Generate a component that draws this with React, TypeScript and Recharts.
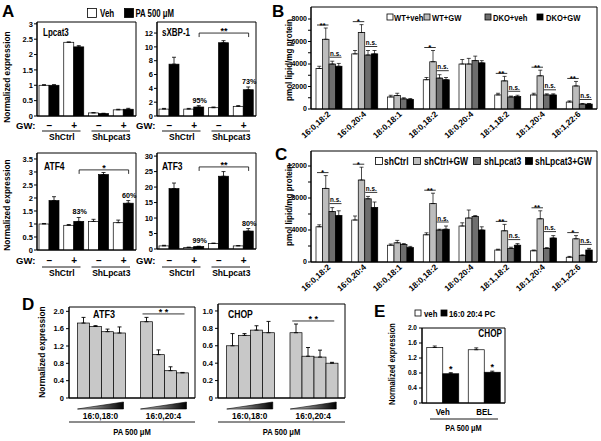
import React from 'react';
import { BarChart, Bar, XAxis, YAxis, ErrorBar, ReferenceArea, ReferenceLine } from 'recharts';

const W = 601;
const H = 441;
const FONT = '"Liberation Sans", Arial, sans-serif';

// ---------- panel A : qPCR, 4 conditions x (veh, PA) ----------
const aCats = ['ctrl-', 'ctrl+', 'kd-', 'kd+'];
const gwSigns = ['–', '+', '–', '+'];
const shLabels = ['ShCtrl', 'ShLpcat3'];

const lpcat3Veh = [1.0, 2.4, 0.1, 0.2];
const lpcat3VehErr = [0.02, 0.01, 0.01, 0.02];
const lpcat3Pa = [1.0, 2.25, 0.08, 0.22];
const lpcat3PaErr = [0.02, 0.04, 0.01, 0.03];

const sxbpVeh = [1.0, 1.0, 1.2, 1.4];
const sxbpVehErr = [0.1, 0.1, 0.1, 0.1];
const sxbpPa = [7.5, 1.3, 10.6, 3.8];
const sxbpPaErr = [1.0, 0.2, 0.3, 0.4];
const sxbpPct = ['', '95%', '', '73%'];

const atf4Veh = [1.0, 0.95, 1.1, 1.05];
const atf4VehErr = [0.02, 0.03, 0.08, 0.1];
const atf4Pa = [1.9, 1.1, 2.9, 1.8];
const atf4PaErr = [0.15, 0.15, 0.08, 0.1];
const atf4Pct = ['', '83%', '', '60%'];

const atf3Veh = [1.0, 0.5, 1.8, 1.0];
const atf3VehErr = [0.2, 0.1, 0.1, 0.1];
const atf3Pa = [19.5, 0.8, 23.5, 5.8];
const atf3PaErr = [1.8, 0.1, 1.5, 0.8];
const atf3Pct = ['', '99%', '', '80%'];

// ---------- panels B, C : lipidomics ----------
const species = ['16:0,18:2', '16:0,20:4', '18:0,18:1', '18:0,18:2', '18:0,20:4', '18:1,18:2', '18:1,20:4', '18:1,22:6'];

const wtVeh = [3600, 4900, 1070, 2600, 4000, 1250, 1250, 620];
const wtVehErr = [200, 300, 150, 200, 400, 150, 150, 100];
const wtGw = [6200, 6800, 1200, 4200, 4000, 2500, 2950, 2050];
const wtGwErr = [1000, 700, 200, 1000, 500, 400, 500, 400];
const dkoVeh = [4000, 4800, 900, 2750, 4300, 1070, 1250, 440];
const dkoVehErr = [250, 400, 100, 300, 400, 80, 100, 50];
const dkoGw = [3800, 4900, 850, 2600, 4100, 1100, 1250, 440];
const dkoGwErr = [250, 300, 80, 200, 200, 120, 100, 50];
const bStars = ['**', '*', '', '*', '', '**', '**', '**'];
const bNs = [true, true, false, true, false, true, true, true];

const shCtrl = [4400, 5250, 2100, 3400, 4500, 1500, 1400, 600];
const shCtrlErr = [250, 500, 150, 250, 400, 100, 100, 100];
const shCtrlGw = [9200, 10250, 2400, 7300, 5500, 3900, 5400, 2900];
const shCtrlGwErr = [1600, 1600, 300, 1300, 1000, 800, 1000, 400];
const shLpcat3 = [6300, 7900, 2200, 4000, 5700, 1700, 1700, 800];
const shLpcat3Err = [500, 300, 100, 100, 100, 150, 100, 100];
const shLpcat3Gw = [5800, 6800, 1800, 4100, 4000, 2100, 3000, 1500];
const shLpcat3GwErr = [600, 700, 150, 400, 400, 200, 300, 200];
const cStars = ['*', '*', '', '**', '', '**', '**', '*'];
const cNs = [true, true, false, true, false, true, true, true];

// ---------- panel D : dose series (4 doses per lipid) ----------
const dCats = ['16:0,18:0', '16:0,20:4'];
const atf3Dose1818 = [1.73, 1.65, 1.53, 1.5];
const atf3Dose1818Err = [0.13, 0.02, 0.06, 0.14];
const atf3Dose2004 = [1.76, 1.0, 0.63, 0.58];
const atf3Dose2004Err = [0.1, 0.11, 0.09, 0.01];
const chopDose1818 = [0.6, 0.72, 0.78, 0.75];
const chopDose1818Err = [0.14, 0.02, 0.05, 0.13];
const chopDose2004 = [0.75, 0.48, 0.47, 0.4];
const chopDose2004Err = [0.1, 0.1, 0.08, 0.01];

// ---------- panel E ----------
const eCats = ['Veh', 'BEL'];
const eVeh = [1.48, 1.42];
const eVehErr = [0.04, 0.05];
const ePc = [0.78, 0.82];
const ePcErr = [0.03, 0.03];

type Box = { x0: number; x1: number; y0: number; y1: number };

const marginFor = (b: Box, yw: number, xh: number) => ({
  left: b.x0 - yw,
  top: b.y0,
  right: W - b.x1,
  bottom: H - b.y1 - xh,
});

const Layer = ({ children }: { children: React.ReactNode }) => (
  <div style={{ position: 'absolute', left: 0, top: 0, width: W, height: H }}>{children}</div>
);

// bold text, optionally squeezed horizontally (the figure uses a narrow face)
const Txt = ({ x, y, size = 9.5, anchor = 'start', sx = 1, rotate = false, children }: any) => (
  <text
    x={0}
    y={0}
    fontSize={size}
    fontWeight="bold"
    fontFamily={FONT}
    fill="#000"
    textAnchor={anchor}
    transform={`translate(${x} ${y})${rotate ? ' rotate(-90)' : ''} scale(${sx} 1)`}
  >
    {children}
  </text>
);

const rectOf = (p: any, fill: string) => (
  <rect x={p.x} y={p.y} width={p.width} height={p.height} fill={fill} stroke="#000" strokeWidth={0.7} />
);

// pixel y of value v, using the bar's own scale (height per unit)
const yAt = (p: any, barValue: number, v: number) => p.y + p.height - v * (p.height / barValue);

const plainShape = (fill: string) => (p: any) => rectOf(p, fill);

const pctShape = (vals: number[], errs: number[], pct: string[]) => (p: any) => {
  const i = p.index;
  const top = yAt(p, vals[i], vals[i] + errs[i]);
  return (
    <g>
      {rectOf(p, '#000')}
      {pct[i] ? (
        <Txt x={p.x + p.width / 2 + 1} y={top - 3} size={8} anchor="middle" sx={0.9}>
          {pct[i]}
        </Txt>
      ) : null}
    </g>
  );
};

const starOverShape = (vals: number[], errs: number[], label: string[]) => (p: any) => {
  const i = p.index;
  const top = yAt(p, vals[i], vals[i] + errs[i]);
  return (
    <g>
      {rectOf(p, '#000')}
      {label[i] ? (
        <Txt x={p.x + p.width / 2} y={top - 1} size={9} anchor="middle">
          {label[i]}
        </Txt>
      ) : null}
    </g>
  );
};

const sigShape = (fill: string, vals: number[], errs: number[], stars: string[]) => (p: any) => {
  const i = p.index;
  const ly = yAt(p, vals[i], vals[i] + errs[i]) - 3;
  return (
    <g>
      {rectOf(p, fill)}
      {stars[i] ? (
        <g>
          <line x1={p.x - p.width + 1} x2={p.x + p.width - 0.5} y1={ly} y2={ly} stroke="#000" strokeWidth={0.8} />
          <Txt x={p.x} y={ly + 2.5} size={8} anchor="middle">
            {stars[i]}
          </Txt>
        </g>
      ) : null}
    </g>
  );
};

const nsShape = (fill: string, vals: number[], errs: number[], nVals: number[], nErrs: number[], ns: boolean[]) => (p: any) => {
  const i = p.index;
  const top = Math.min(yAt(p, vals[i], vals[i] + errs[i]), yAt(p, vals[i], nVals[i] + nErrs[i]));
  const ly = top - 4;
  return (
    <g>
      {rectOf(p, fill)}
      {ns[i] ? (
        <g>
          <line x1={p.x + 0.5} x2={p.x + 2 * p.width - 0.5} y1={ly} y2={ly} stroke="#000" strokeWidth={0.8} />
          <Txt x={p.x + p.width} y={ly - 1.5} size={7} anchor="middle" sx={0.9}>
            n.s.
          </Txt>
        </g>
      ) : null}
    </g>
  );
};

const bracketShape = (label: string, dx1: number, dx2: number, drop: number) => (p: any) => {
  const x1 = p.x1 + dx1;
  const x2 = p.x2 + dx2;
  const y = p.y1;
  const d = drop ? `M${x1},${y + drop}V${y}H${x2}V${y + drop}` : `M${x1},${y}H${x2}`;
  return (
    <g>
      <path d={d} fill="none" stroke="#000" strokeWidth={0.8} />
      <Txt x={(x1 + x2) / 2} y={y + 1} size={9} anchor="middle">
        {label}
      </Txt>
    </g>
  );
};

const yTick = (fs: number) => ({ fontSize: fs, fontWeight: 'bold', fill: '#000', fontFamily: FONT });

const gwTick = (bw: number, sy: number, ly: number) => (p: any) => {
  const { x, y, index } = p;
  return (
    <g>
      {index === 0 ? (
        <Txt x={x - 14} y={y + sy} size={9.5} anchor="end">
          GW:
        </Txt>
      ) : null}
      <Txt x={x} y={y + sy} size={10} anchor="middle">
        {gwSigns[index]}
      </Txt>
      {index % 2 === 0 ? (
        <g>
          <line x1={x - bw / 2 + 5} x2={x + 1.5 * bw - 6} y1={y + ly - 9} y2={y + ly - 9} stroke="#000" strokeWidth={0.9} />
          <Txt x={x + bw / 2} y={y + ly} size={8.5} anchor="middle">
            {shLabels[index / 2]}
          </Txt>
        </g>
      ) : null}
    </g>
  );
};

type ExprProps = {
  box: Box;
  domain: [number, number];
  ticks: number[];
  veh: number[];
  vehErr: number[];
  pa: number[];
  paErr: number[];
  pct: string[];
  bracket?: { y: number; label: string };
  sy: number;
  ly: number;
};

function ExprPanel({ box, domain, ticks, veh, vehErr, pa, paErr, pct, bracket, sy, ly }: ExprProps) {
  const data = aCats.map((c, i) => ({ c, veh: veh[i], pa: pa[i], vehE: [0, vehErr[i]], paE: [0, paErr[i]] }));
  const bw = (box.x1 - box.x0) / aCats.length;
  return (
    <Layer>
      <BarChart width={W} height={H} data={data} margin={marginFor(box, 30, 40)} barGap={0} barCategoryGap={2}>
        <XAxis dataKey="c" height={40} tickLine={false} tickSize={0} tickMargin={0} interval={0} axisLine={{ stroke: '#000' }} tick={gwTick(bw, sy, ly)} />
        <YAxis type="number" domain={domain} ticks={ticks} interval={0} width={30} tickSize={3} tickMargin={1} allowDataOverflow tick={yTick(7.5)} axisLine={{ stroke: '#000' }} tickLine={{ stroke: '#000' }} />
        <ReferenceArea y1={0} y2={domain[1]} fill="none" stroke="#000" strokeWidth={1} ifOverflow="visible" />
        <Bar dataKey="veh" isAnimationActive={false} shape={plainShape('#fff')}>
          <ErrorBar dataKey="vehE" width={2} stroke="#000" strokeWidth={0.8} direction="y" isAnimationActive={false} />
        </Bar>
        <Bar dataKey="pa" isAnimationActive={false} shape={pctShape(pa, paErr, pct)}>
          <ErrorBar dataKey="paE" width={2} stroke="#000" strokeWidth={0.8} direction="y" isAnimationActive={false} />
        </Bar>
        {bracket ? (
          <ReferenceLine
            segment={[{ x: 'ctrl+', y: bracket.y }, { x: 'kd+', y: bracket.y }]}
            ifOverflow="visible"
            shape={bracketShape(bracket.label, 5, 5, 4)}
          />
        ) : null}
      </BarChart>
    </Layer>
  );
}

const speciesTick = (p: any) => {
  const { x, y, payload } = p;
  const ax = x + 2;
  const ay = y + 6;
  return (
    <text x={ax} y={ay} transform={`rotate(-42 ${ax} ${ay})`} textAnchor="end" fontSize={8.3} fontWeight="bold" fontFamily={FONT} fill="#000">
      {payload.value}
    </text>
  );
};

type LipidProps = {
  box: Box;
  domain: [number, number];
  ticks: number[];
  major: number;
  s: number[][];
  e: number[][];
  stars: string[];
  ns: boolean[];
};

const lipidFills = ['#ffffff', '#bdbdbd', '#6e6e6e', '#000000'];

function LipidPanel({ box, domain, ticks, major, s, e, stars, ns }: LipidProps) {
  const data = species.map((name, i) => ({
    name,
    a: s[0][i],
    b: s[1][i],
    c: s[2][i],
    d: s[3][i],
    aE: [0, e[0][i]],
    bE: [0, e[1][i]],
    cE: [0, e[2][i]],
    dE: [0, e[3][i]],
  }));
  const shapes = [
    plainShape(lipidFills[0]),
    sigShape(lipidFills[1], s[1], e[1], stars),
    nsShape(lipidFills[2], s[2], e[2], s[3], e[3], ns),
    plainShape(lipidFills[3]),
  ];
  return (
    <Layer>
      <BarChart width={W} height={H} data={data} margin={marginFor(box, 30, 40)} barGap={0} barSize={6.5}>
        <XAxis dataKey="name" height={40} tickLine={false} tickSize={0} tickMargin={0} interval={0} axisLine={{ stroke: '#000' }} tick={speciesTick} />
        <YAxis
          type="number"
          domain={domain}
          ticks={ticks}
          interval={0}
          width={30}
          tickSize={3}
          tickMargin={1}
          allowDataOverflow
          tickFormatter={(v: number) => (v % major === 0 ? String(v) : '')}
          tick={yTick(7)}
          axisLine={{ stroke: '#000' }}
          tickLine={{ stroke: '#000' }}
        />
        <ReferenceArea y1={0} y2={domain[1]} fill="none" stroke="#000" strokeWidth={1} ifOverflow="visible" />
        {['a', 'b', 'c', 'd'].map((k, j) => (
          <Bar key={k} dataKey={k} isAnimationActive={false} shape={shapes[j]}>
            <ErrorBar dataKey={`${k}E`} width={2} stroke="#000" strokeWidth={0.7} direction="y" isAnimationActive={false} />
          </Bar>
        ))}
      </BarChart>
    </Layer>
  );
}

const doseTick = (bw: number, pw: number) => (p: any) => {
  const { x, y, index, payload } = p;
  return (
    <g>
      <defs>
        <linearGradient id="wedgeGrad" x1="0" x2="1" y1="0" y2="0">
          <stop offset="0" stopColor="#cccccc" />
          <stop offset="1" stopColor="#000000" />
        </linearGradient>
      </defs>
      <polygon points={`${x - 23},${y + 11} ${x + 23},${y + 11} ${x + 23},${y + 4}`} fill="url(#wedgeGrad)" stroke="#000" strokeWidth={0.6} />
      <Txt x={x} y={y + 21} size={9} anchor="middle" sx={0.92}>
        {payload.value}
      </Txt>
      {index === 0 ? (
        <g>
          <line x1={x - bw / 2} x2={x - bw / 2 + pw} y1={y + 24} y2={y + 24} stroke="#000" strokeWidth={0.9} />
          <Txt x={x - bw / 2 + pw / 2} y={y + 37} size={9.5} anchor="middle" sx={0.8}>
            PA 500 μM
          </Txt>
        </g>
      ) : null}
    </g>
  );
};

const decFmt = (v: number) => (v === 0 ? '0' : v.toFixed(1));

type DoseProps = {
  box: Box;
  domain: [number, number];
  ticks: number[];
  rows: number[][];
  errs: number[][];
  bracketY: number;
};

function DosePanel({ box, domain, ticks, rows, errs, bracketY }: DoseProps) {
  const data = dCats.map((g, i) => ({
    g,
    s0: rows[i][0],
    s1: rows[i][1],
    s2: rows[i][2],
    s3: rows[i][3],
    e0: [0, errs[i][0]],
    e1: [0, errs[i][1]],
    e2: [0, errs[i][2]],
    e3: [0, errs[i][3]],
  }));
  const pw = box.x1 - box.x0;
  const bw = pw / dCats.length;
  return (
    <Layer>
      <BarChart width={W} height={H} data={data} margin={marginFor(box, 30, 42)} barGap={0} barCategoryGap={8.5}>
        <XAxis dataKey="g" height={42} tickLine={false} tickSize={0} tickMargin={0} interval={0} axisLine={{ stroke: '#000' }} tick={doseTick(bw, pw)} />
        <YAxis type="number" domain={domain} ticks={ticks} interval={0} width={30} tickSize={3} tickMargin={2} allowDataOverflow tickFormatter={decFmt} tick={yTick(7.5)} axisLine={{ stroke: '#000' }} tickLine={{ stroke: '#000' }} />
        <ReferenceArea y1={0} y2={domain[1]} fill="none" stroke="#000" strokeWidth={1} ifOverflow="visible" />
        {['s0', 's1', 's2', 's3'].map((k, j) => (
          <Bar key={k} dataKey={k} isAnimationActive={false} shape={plainShape('#c8c8c8')}>
            <ErrorBar dataKey={`e${j}`} width={2} stroke="#000" strokeWidth={0.9} direction="y" isAnimationActive={false} />
          </Bar>
        ))}
        <ReferenceLine
          segment={[{ x: dCats[1], y: bracketY }, { x: dCats[1], y: bracketY }]}
          ifOverflow="visible"
          shape={bracketShape('* *', -21, 21, 0)}
        />
      </BarChart>
    </Layer>
  );
}

const eTick = (bw: number, pw: number) => (p: any) => {
  const { x, y, index, payload } = p;
  return (
    <g>
      <Txt x={x} y={y + 12} size={9} anchor="middle" sx={0.88}>
        {payload.value}
      </Txt>
      {index === 0 ? (
        <g>
          <line x1={x - bw / 2 + 8} x2={x - bw / 2 + 76} y1={y + 16} y2={y + 16} stroke="#000" strokeWidth={0.9} />
          <Txt x={x - bw / 2 + pw / 2} y={y + 28} size={9} anchor="middle" sx={0.82}>
            PA 500 μM
          </Txt>
        </g>
      ) : null}
    </g>
  );
};

function EPanel() {
  const box: Box = { x0: 422, x1: 505, y0: 328, y1: 403 };
  const data = eCats.map((c, i) => ({ c, veh: eVeh[i], pc: ePc[i], vehE: [0, eVehErr[i]], pcE: [0, ePcErr[i]] }));
  const pw = box.x1 - box.x0;
  const bw = pw / eCats.length;
  return (
    <Layer>
      <BarChart width={W} height={H} data={data} margin={marginFor(box, 30, 34)} barGap={0} barCategoryGap={4.75}>
        <XAxis dataKey="c" height={34} tickLine={false} tickSize={0} tickMargin={0} interval={0} axisLine={{ stroke: '#000' }} tick={eTick(bw, pw)} />
        <YAxis type="number" domain={[0, 2]} ticks={[0, 0.4, 0.8, 1.2, 1.6, 2.0]} interval={0} width={30} tickSize={3} tickMargin={2} allowDataOverflow tickFormatter={decFmt} tick={yTick(6.5)} axisLine={{ stroke: '#000' }} tickLine={{ stroke: '#000' }} />
        <ReferenceArea y1={0} y2={2} fill="none" stroke="#000" strokeWidth={1} ifOverflow="visible" />
        <Bar dataKey="veh" isAnimationActive={false} shape={plainShape('#fff')}>
          <ErrorBar dataKey="vehE" width={2} stroke="#000" strokeWidth={0.8} direction="y" isAnimationActive={false} />
        </Bar>
        <Bar dataKey="pc" isAnimationActive={false} shape={starOverShape(ePc, ePcErr, ['*', '*'])}>
          <ErrorBar dataKey="pcE" width={2} stroke="#000" strokeWidth={0.8} direction="y" isAnimationActive={false} />
        </Bar>
      </BarChart>
    </Layer>
  );
}

const Sq = ({ x, y, s, fill }: any) => <rect x={x} y={y} width={s} height={s} fill={fill} stroke="#000" strokeWidth={0.8} />;

function Overlay() {
  return (
    <svg width={W} height={H} style={{ position: 'absolute', left: 0, top: 0, pointerEvents: 'none' }}>
      {/* panel letters */}
      <Txt x={2} y={17} size={17}>A</Txt>
      <Txt x={272} y={17} size={17}>B</Txt>
      <Txt x={275} y={160} size={17}>C</Txt>
      <Txt x={22} y={310} size={17}>D</Txt>
      <Txt x={374} y={317} size={17}>E</Txt>

      {/* legend A */}
      <Sq x={87.5} y={8.5} s={9} fill="#fff" />
      <Txt x={100} y={17} size={10} sx={0.8}>Veh</Txt>
      <Sq x={124.5} y={8.5} s={9} fill="#000" />
      <Txt x={135.5} y={17} size={10} sx={0.78}>PA 500 μM</Txt>

      {/* titles */}
      <Txt x={43} y={36} size={10} sx={0.8}>Lpcat3</Txt>
      <Txt x={162} y={36} size={10} sx={0.8}>sXBP-1</Txt>
      <Txt x={44} y={170} size={10} sx={0.85}>ATF4</Txt>
      <Txt x={162} y={170} size={10} sx={0.85}>ATF3</Txt>
      <Txt x={104} y={318} size={11} anchor="middle" sx={0.82}>ATF3</Txt>
      <Txt x={228} y={318} size={10.5} sx={0.82}>CHOP</Txt>
      <Txt x={502} y={337} size={10} anchor="end" sx={0.82}>CHOP</Txt>

      {/* axis titles */}
      <Txt x={10} y={77} size={9.5} anchor="middle" sx={0.88} rotate>Normalized expression</Txt>
      <Txt x={10} y={205} size={9.5} anchor="middle" sx={0.88} rotate>Normalized expression</Txt>
      <Txt x={292} y={60} size={9.5} anchor="middle" sx={0.85} rotate>pmol lipid/mg  protein</Txt>
      <Txt x={292} y={205} size={9.5} anchor="middle" sx={0.85} rotate>pmol lipid/mg  protein</Txt>
      <Txt x={45} y={352} size={9.5} anchor="middle" sx={0.88} rotate>Normalized expression</Txt>
      <Txt x={395} y={364} size={8.5} anchor="middle" sx={0.88} rotate>Normalized expression</Txt>

      {/* legend B */}
      <Sq x={387} y={14} s={6} fill={lipidFills[0]} />
      <Txt x={394} y={20.5} size={9.5} sx={0.8}>WT+veh</Txt>
      <Sq x={424} y={14} s={6} fill={lipidFills[1]} />
      <Txt x={432} y={20.5} size={9.5} sx={0.8}>WT+GW</Txt>
      <Sq x={485} y={14} s={6} fill={lipidFills[2]} />
      <Txt x={493} y={20.5} size={9.5} sx={0.8}>DKO+veh</Txt>
      <Sq x={537} y={14} s={6} fill={lipidFills[3]} />
      <Txt x={546} y={20.5} size={9.5} sx={0.8}>DKO+GW</Txt>

      {/* legend C */}
      <Sq x={375.5} y={157.5} s={7} fill={lipidFills[0]} />
      <Txt x={384} y={165} size={10} sx={0.85}>shCtrl</Txt>
      <Sq x={413.5} y={157.5} s={7} fill={lipidFills[1]} />
      <Txt x={424} y={165} size={10} sx={0.85}>shCtrl+GW</Txt>
      <Sq x={473.5} y={157.5} s={7} fill={lipidFills[2]} />
      <Txt x={484} y={165} size={10} sx={0.85}>shLpcat3</Txt>
      <Sq x={525.5} y={157.5} s={7} fill={lipidFills[3]} />
      <Txt x={535} y={165} size={10} sx={0.85}>shLpcat3+GW</Txt>

      {/* legend E */}
      <Sq x={415} y={310} s={6} fill="#fff" />
      <Txt x={424} y={317} size={9.5} sx={0.82}>veh</Txt>
      <Sq x={441} y={310} s={6} fill="#000" />
      <Txt x={449} y={317} size={9.5} sx={0.82}>16:0 20:4 PC</Txt>
    </svg>
  );
}

export default function App() {
  return (
    <div style={{ position: 'absolute', left: 0, top: 0, width: W, height: H, background: '#fff', overflow: 'hidden' }}>
      <ExprPanel
        box={{ x0: 37, x1: 136, y0: 22, y1: 116 }}
        domain={[0, 3.06]}
        ticks={[0, 0.5, 1, 1.5, 2, 2.5, 3]}
        veh={lpcat3Veh}
        vehErr={lpcat3VehErr}
        pa={lpcat3Pa}
        paErr={lpcat3PaErr}
        pct={['', '', '', '']}
        sy={13}
        ly={24}
      />
      <ExprPanel
        box={{ x0: 157, x1: 256, y0: 22, y1: 116 }}
        domain={[0, 13.6]}
        ticks={[0, 2, 4, 6, 8, 10, 12]}
        veh={sxbpVeh}
        vehErr={sxbpVehErr}
        pa={sxbpPa}
        paErr={sxbpPaErr}
        pct={sxbpPct}
        bracket={{ y: 12, label: '**' }}
        sy={13}
        ly={24}
      />
      <ExprPanel
        box={{ x0: 37, x1: 136, y0: 153, y1: 250 }}
        domain={[0, 3.73]}
        ticks={[0, 0.5, 1, 1.5, 2, 2.5, 3, 3.5]}
        veh={atf4Veh}
        vehErr={atf4VehErr}
        pa={atf4Pa}
        paErr={atf4PaErr}
        pct={atf4Pct}
        bracket={{ y: 3.08, label: '*' }}
        sy={14}
        ly={26}
      />
      <ExprPanel
        box={{ x0: 157, x1: 256, y0: 153, y1: 249 }}
        domain={[0, 31]}
        ticks={[0, 5, 10, 15, 20, 25, 30]}
        veh={atf3Veh}
        vehErr={atf3VehErr}
        pa={atf3Pa}
        paErr={atf3PaErr}
        pct={atf3Pct}
        bracket={{ y: 26.5, label: '**' }}
        sy={15}
        ly={27}
      />
      <LipidPanel
        box={{ x0: 311, x1: 597, y0: 7, y1: 109 }}
        domain={[0, 9067]}
        ticks={[0, 1000, 2000, 3000, 4000, 5000, 6000, 7000, 8000]}
        major={2000}
        s={[wtVeh, wtGw, dkoVeh, dkoGw]}
        e={[wtVehErr, wtGwErr, dkoVehErr, dkoGwErr]}
        stars={bStars}
        ns={bNs}
      />
      <LipidPanel
        box={{ x0: 311, x1: 597, y0: 151, y1: 262 }}
        domain={[0, 13875]}
        ticks={[0, 2000, 4000, 6000, 8000, 10000, 12000]}
        major={4000}
        s={[shCtrl, shCtrlGw, shLpcat3, shLpcat3Gw]}
        e={[shCtrlErr, shCtrlGwErr, shLpcat3Err, shLpcat3GwErr]}
        stars={cStars}
        ns={cNs}
      />
      <DosePanel
        box={{ x0: 69, x1: 195, y0: 307, y1: 398 }}
        domain={[0, 2.1]}
        ticks={[0, 0.4, 0.8, 1.2, 1.6, 2.0]}
        rows={[atf3Dose1818, atf3Dose2004]}
        errs={[atf3Dose1818Err, atf3Dose2004Err]}
        bracketY={1.94}
      />
      <DosePanel
        box={{ x0: 218, x1: 345, y0: 304, y1: 398 }}
        domain={[0, 1.08]}
        ticks={[0, 0.2, 0.4, 0.6, 0.8, 1.0]}
        rows={[chopDose1818, chopDose2004]}
        errs={[chopDose1818Err, chopDose2004Err]}
        bracketY={0.885}
      />
      <EPanel />
      <Overlay />
    </div>
  );
}
